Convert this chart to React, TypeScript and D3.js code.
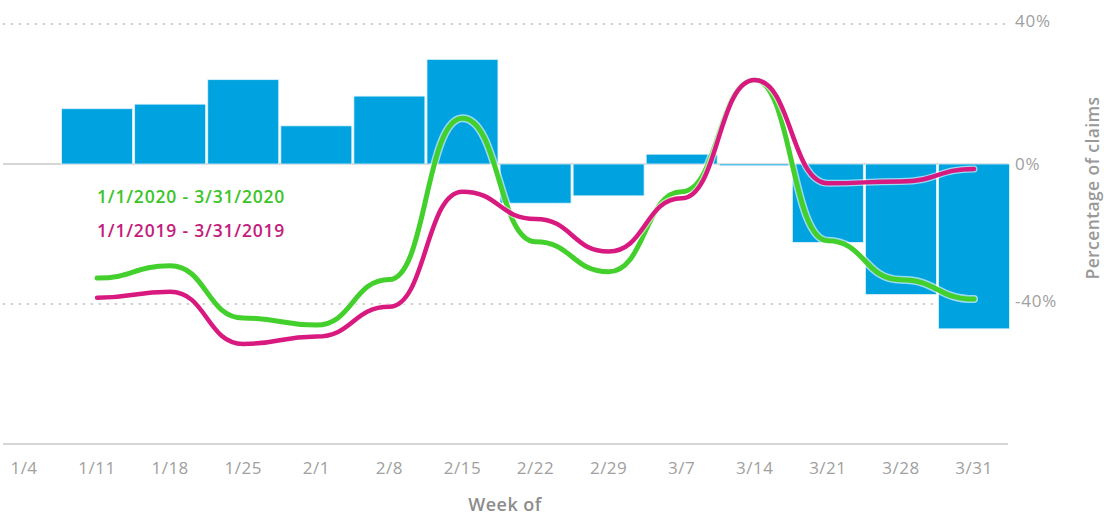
import React from "react";
import * as d3 from "d3";

const weeks = ["1/4", "1/11", "1/18", "1/25", "2/1", "2/8", "2/15", "2/22", "2/29", "3/7", "3/14", "3/21", "3/28", "3/31"];
const dataWeeks = weeks.slice(1);
const barValues = [15.8, 17.1, 24.1, 10.9, 19.4, 29.9, -11.2, -9.1, 2.8, -0.5, -22.4, -37.3, -47.1];
const claims2020 = [-32.6, -29.1, -44, -46, -33, 13.1, -22.2, -30.8, -7.9, 24, -21.9, -33.1, -38.6];
const claims2019 = [-38.2, -36.5, -51.4, -49.3, -40.8, -7.9, -15.7, -25, -9.8, 24, -5.5, -5, -1.4];
const yTicks = [40, 0, -40];
const legend2020 = "1/1/2020 - 3/31/2020";
const legend2019 = "1/1/2019 - 3/31/2019";

const W = 1104;
const H = 518;
const FONT = "'Open Sans', Lato, sans-serif";
const BLUE = "#00a3e0";
const GREEN = "#44d02c";
const MAGENTA = "#d8197f";

export default function App() {
  const x = d3.scalePoint<string>().domain(weeks).range([24, 974]);
  const y = d3.scaleLinear().domain([-80, 40]).range([444, 24]);
  const barW = 71;
  const gridX0 = 3;
  const gridX1 = 1008;

  const line = d3
    .line<number>()
    .x((_, i) => x(dataWeeks[i]) as number)
    .y((d) => y(d))
    .curve(d3.curveBumpX);

  return (
    <svg width={W} height={H} style={{ position: "absolute", left: 0, top: 0, background: "#fff" }}>
      {/* dotted gridlines */}
      {yTicks.filter((t) => t !== 0).map((t) => (
        <line key={t} x1={gridX0} x2={gridX1} y1={y(t)} y2={y(t)} stroke="#c4c4c4" strokeWidth={1.6} strokeDasharray="1.6,6.4" strokeLinecap="round" />
      ))}
      {/* zero line */}
      <line x1={gridX0} x2={gridX1} y1={y(0)} y2={y(0)} stroke="#c8c8c8" strokeWidth={1.6} />
      {/* bottom axis */}
      <line x1={gridX0} x2={gridX1} y1={y(-80)} y2={y(-80)} stroke="#d6d6d6" strokeWidth={2} />

      {/* bars */}
      {barValues.map((v, i) => {
        const cx = x(dataWeeks[i]) as number;
        const y0 = y(Math.max(0, v));
        const h = Math.max(1.2, Math.abs(y(v) - y(0)));
        return <rect key={i} x={cx - barW / 2} y={y0} width={barW} height={h} fill={BLUE} stroke="#dff3fb" strokeWidth={0.8} />;
      })}

      {/* lines */}
      <path d={line(claims2020) || ""} fill="none" stroke="#ffffff" strokeOpacity={0.6} strokeWidth={8} strokeLinecap="round" />
      <path d={line(claims2020) || ""} fill="none" stroke={GREEN} strokeWidth={5} strokeLinecap="round" />
      <path d={line(claims2019) || ""} fill="none" stroke="#ffffff" strokeOpacity={0.6} strokeWidth={7} strokeLinecap="round" />
      <path d={line(claims2019) || ""} fill="none" stroke={MAGENTA} strokeWidth={4.5} strokeLinecap="round" />

      {/* legend */}
      <text x={97} y={197} dy="0.35em" fill="#3cc42a" fontFamily={FONT} fontSize={17.5} fontWeight={600} letterSpacing={0.8}>{legend2020}</text>
      <text x={97} y={231} dy="0.35em" fill="#c41c7c" fontFamily={FONT} fontSize={17.5} fontWeight={600} letterSpacing={0.8}>{legend2019}</text>

      {/* y tick labels */}
      {yTicks.map((t) => (
        <text key={t} x={1015} y={y(t) - (t === 0 ? 0 : 3)} dy="0.35em" fill="#a0a0a0" fontFamily={FONT} fontSize={17} letterSpacing={0.8}>
          {`${t}%`}
        </text>
      ))}
      {/* y title */}
      <text transform={`translate(1093,188) rotate(-90)`} textAnchor="middle" dy="0.35em" fill="#999" fontFamily={FONT} fontSize={17.5} fontWeight={600} letterSpacing={0.4}>
        Percentage of claims
      </text>

      {/* x tick labels */}
      {weeks.map((w) => (
        <text key={w} x={x(w) as number} y={468} dy="0.35em" textAnchor="middle" fill="#a0a0a0" fontFamily={FONT} fontSize={17} letterSpacing={0.5}>
          {w}
        </text>
      ))}
      <text x={505} y={505} dy="0.35em" textAnchor="middle" fill="#8c8c8c" fontFamily={FONT} fontSize={18} fontWeight={600} letterSpacing={0.5}>
        Week of
      </text>
    </svg>
  );
}
